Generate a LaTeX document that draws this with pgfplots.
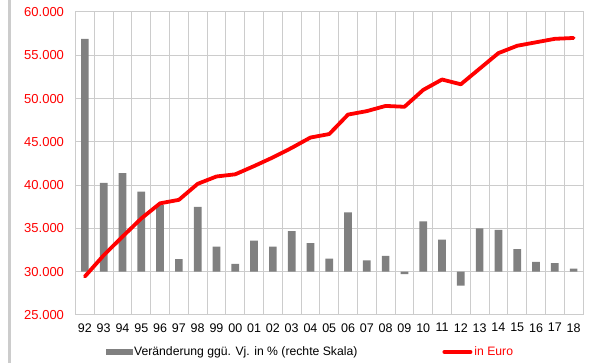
\documentclass[border=0pt]{standalone}
\usepackage{pgfplots}
\pgfplotsset{compat=1.18}
\usepackage{fontspec}
\setmainfont{Liberation Sans}
\definecolor{gridc}{RGB}{204,204,204}
\definecolor{barc}{RGB}{128,128,128}
\definecolor{linec}{RGB}{255,0,0}
\pgfplotsset{base/.style={at={(0pt,0pt)}, anchor=south west, scale only axis,
  width=507.5pt, height=303pt, xmin=-0.5, xmax=26.5}}
\begin{document}
\begin{tikzpicture}
\useasboundingbox (-75.5pt,-48pt) rectangle (514.5pt,315pt);
\draw[gridc, line width=2.7pt] (-65.8pt,-48pt) -- (-65.8pt,315pt);
% frame, grid, tick labels, legend
\begin{axis}[base,
  ymin=25000, ymax=60000,
  ytick={25000,30000,...,60000},
  scaled y ticks=false,
  /pgf/number format/fixed,
  /pgf/number format/1000 sep={.},
  /pgf/number format/assume math mode=true,
  yticklabel style={text=linec, font=\fontsize{13}{15}\selectfont, xshift=-8pt},
  xtick={0,...,26},
  xticklabels={92,93,94,95,96,97,98,99,00,01,02,03,04,05,06,07,08,09,10,11,12,13,14,15,16,17,18},
  xticklabel style={font=\fontsize{12.5}{14}\selectfont, yshift=-4.8pt},
  minor xtick={0.5,1.5,...,25.5},
  major tick length=0pt, minor tick length=0pt,
  ymajorgrids, xminorgrids,
  grid style={gridc, line width=1pt},
  minor grid style={gridc, line width=1pt},
  axis line style={gridc, line width=1pt},
  legend style={at={(axis description cs:0,0)}, anchor=west, xshift=30pt, yshift=-37pt,
    draw=none, fill=none, inner sep=0pt, legend columns=2,
    font=\fontsize{12.2}{14}\selectfont,
    /tikz/every even column/.append style={column sep=83pt}},
]
\addlegendimage{legend image code/.code={\fill[barc] (0pt,-2.6pt) rectangle (26pt,2.6pt);}}
\addlegendentry{Veränderung ggü. Vj. in \% (rechte Skala)}
\addlegendimage{legend image code/.code={\draw[linec, line width=4pt, line cap=round] (2pt,0pt) -- (28pt,0pt);}}
\addlegendentry{\textcolor{linec}{in Euro}}
\end{axis}
% bars, right scale (hidden)
\begin{axis}[base, hide axis, ymin=-2.5, ymax=15]
\addplot[ybar, bar width=7.7pt, fill=barc, draw=none] coordinates {
(0,13.45) (1,5.13) (2,5.70) (3,4.62) (4,3.85) (5,0.72) (6,3.75) (7,1.45) (8,0.45)
(9,1.80) (10,1.45) (11,2.35) (12,1.65) (13,0.75) (14,3.42) (15,0.65) (16,0.92)
(17,-0.14) (18,2.90) (19,1.85) (20,-0.80) (21,2.50) (22,2.42) (23,1.30) (24,0.57)
(25,0.50) (26,0.18)};
\end{axis}
% line, left scale
\begin{axis}[base, hide axis, ymin=25000, ymax=60000]
\addplot[linec, line width=3.8pt, line join=round, line cap=round] coordinates {
(0,29450) (1,31900) (2,34050) (3,36150) (4,37900) (5,38300) (6,40150) (7,41000)
(8,41250) (9,42200) (10,43200) (11,44300) (12,45500) (13,45900) (14,48150)
(15,48550) (16,49150) (17,49050) (18,51000) (19,52200) (20,51650) (21,53450)
(22,55250) (23,56100) (24,56500) (25,56900) (26,57000)};
\end{axis}
\end{tikzpicture}
\end{document}
